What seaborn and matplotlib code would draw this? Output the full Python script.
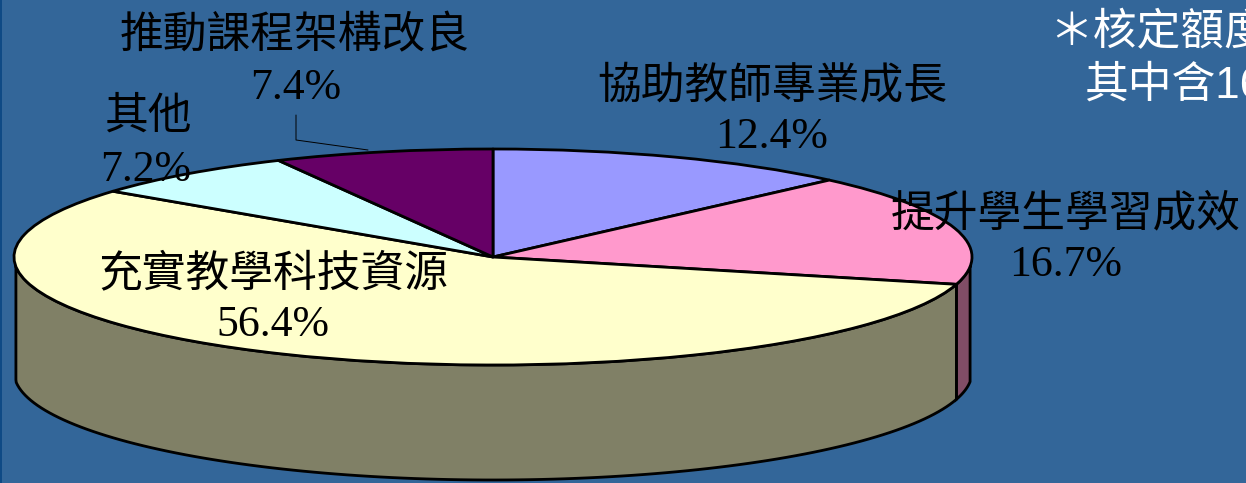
"""Pie chart with a fake 3D rim, budget shares per item."""

import matplotlib.pyplot as plt
import numpy as np
import seaborn as sns

CATEGORIES = [
    "協助教師專業成長",
    "提升學生學習成效",
    "充實教學科技資源",
    "其他",
    "推動課程架構改良",
]
SHARES = [12.4, 16.7, 56.4, 7.2, 7.4]
TOP_COLORS = ["#9999FF", "#FF99CC", "#FFFFCC", "#CCFFFF", "#660066"]
SIDE_COLORS = ["#4D4D80", "#804D66", "#808066", "#668080", "#330033"]

WIDTH, HEIGHT = 1246, 483
BACKGROUND = "#336699"
CENTER_X, CENTER_Y = 493, 257
RADIUS_X, RADIUS_Y = 479, 108
DEPTH = 115 / RADIUS_Y
EDGE = 2.8 * 72 / 100

CJK = ["Noto Sans CJK TC", "DejaVu Sans"]
SERIF = ["Liberation Serif", "DejaVu Serif"]

sns.set_theme(style="white")
plt.rcParams["font.family"] = CJK

fig = plt.figure(figsize=(WIDTH / 100, HEIGHT / 100), dpi=100, facecolor=BACKGROUND)
ax = fig.add_axes([0, 0, 1, 1])

ax.pie(
    SHARES,
    colors=sns.color_palette(TOP_COLORS),
    startangle=90,
    counterclock=False,
    radius=1,
    wedgeprops={"edgecolor": "black", "linewidth": EDGE, "joinstyle": "round"},
)
ax.set_aspect("auto")
ax.set_xlim(-CENTER_X / RADIUS_X, (WIDTH - CENTER_X) / RADIUS_X)
ax.set_ylim((CENTER_Y - HEIGHT) / RADIUS_Y, CENTER_Y / RADIUS_Y)
ax.patch.set_visible(False)

# rim: only the front half of the ellipse (90..270 degrees clockwise from top)
bounds = np.cumsum([0] + SHARES) / sum(SHARES) * 360
for start, stop, color in zip(bounds[:-1], bounds[1:], SIDE_COLORS):
    start, stop = max(start, 90), min(stop, 270)
    if start >= stop:
        continue
    theta = np.radians(np.linspace(start, stop, 120))
    # clip a little so the outer corners drop straight down, as on the slide
    xs = np.clip(np.sin(theta), -0.996, 0.996)
    ys = np.cos(theta)
    ax.fill(
        np.r_[xs, xs[::-1]],
        np.r_[ys, ys[::-1] - DEPTH],
        facecolor=color,
        edgecolor="black",
        linewidth=EDGE,
        zorder=0.5,
    )


def to_fig(x, y):
    return x / WIDTH, 1 - y / HEIGHT


def label(x, y, text, family, size=31.5, color="black", ha="center", **kwargs):
    fx, fy = to_fig(x, y)
    fig.text(fx, fy, text, family=family, fontsize=size, color=color, ha=ha, va="center", **kwargs)


# category names and shares, placed by hand like the original slide
name_pos = [(772, 85), (1066, 213), (273, 273), (148, 116), (295, 35)]
value_pos = [(772, 137), (1066, 265), (273, 325), (146, 170), (296, 88)]
for name, share, n_xy, v_xy in zip(CATEGORIES, SHARES, name_pos, value_pos):
    label(*n_xy, name, CJK)
    label(*v_xy, f"{share}%", SERIF, size=31.5)

# leader line for the small purple slice
line_x, line_y = zip(*[to_fig(296, 115), to_fig(296, 140), to_fig(368, 150)])
fig.add_artist(plt.Line2D(line_x, line_y, color="black", linewidth=0.7))

# note at top right, cut off by the slide edge
label(1049, 34, "＊核定額度", ["Liberation Sans"] + CJK, color="white", ha="left", fontweight="light")
label(1084, 86, "其中含16", ["Liberation Sans"] + CJK, color="white", ha="left", fontweight="light")

# darker strip on the left edge
fig.add_artist(
    plt.Rectangle((0, 0), 2 / WIDTH, 1, transform=fig.transFigure, facecolor="#0F4A85", edgecolor="none")
)

fig.savefig("out.png", dpi=100, facecolor=BACKGROUND)
plt.close(fig)
